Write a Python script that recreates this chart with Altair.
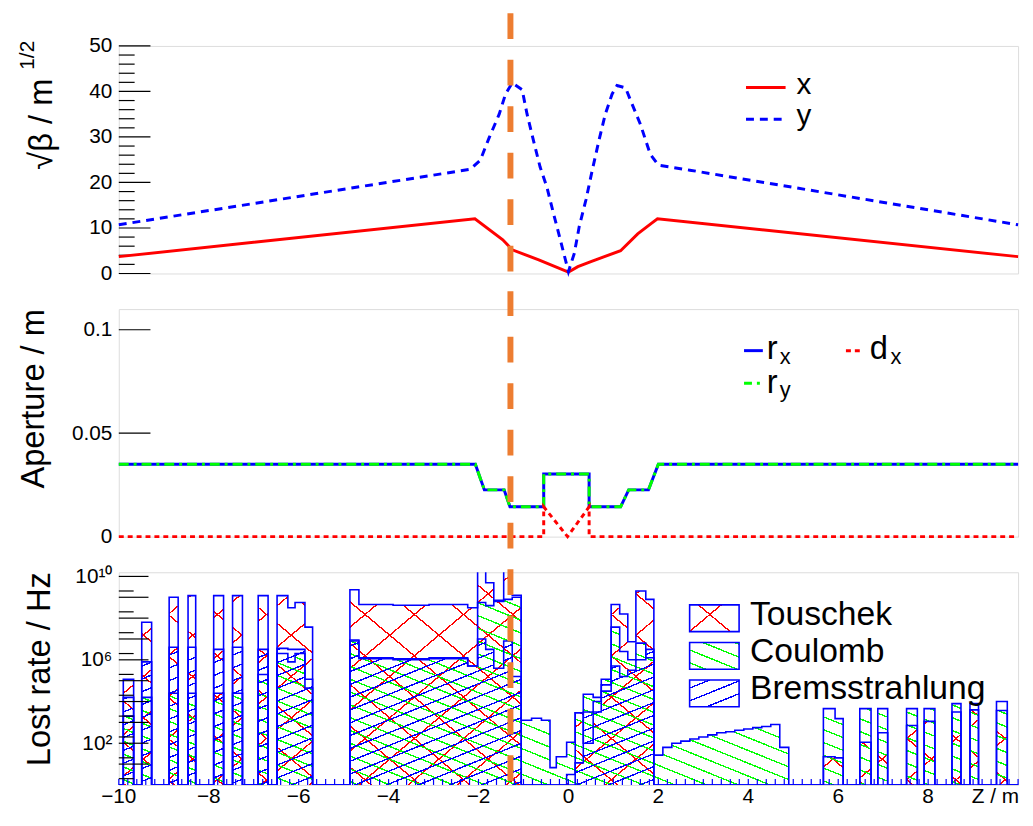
import math
import altair as alt
import pandas as pd

FONT = "Liberation Sans"
W = 909
H1, H2, H3 = 230, 230, 215
LOG_MAX = 10.2
ORANGE = "#ED7D31"
Z_MARK = -1.29

# ---------------- top panel: sqrt(beta) ----------------
bx_z = [-10, -2.08, -1.46, -1.25, -0.66, 0.0, 0.21, 0.5, 0.8, 1.16, 1.54, 1.83, 1.98, 10]
bx_v = [3.7, 12.0, 7.4, 5.2, 3.0, 0.3, 1.5, 2.6, 3.7, 5.0, 8.7, 10.9, 12.0, 3.7]
by_z = [-10, -2.18, -1.96, -1.76, -1.54, -1.4, -1.25, -1.03, -0.92, -0.78, -0.63, -0.48,
        -0.33, -0.18, 0.0, 0.13, 0.24, 0.39, 0.53, 0.68, 0.82, 0.97, 1.08, 1.27, 1.42,
        1.6, 1.82, 2.0, 2.7, 10]
by_v = [10.7, 22.9, 24.9, 29.9, 35.0, 39.4, 41.9, 40.4, 35.0, 29.3, 23.4, 19.0, 13.1,
        7.4, 0.4, 4.4, 10.3, 16.2, 22.7, 29.3, 35.0, 39.4, 41.3, 40.8, 37.1, 32.8, 26.2,
        23.8, 22.7, 10.7]

# ---------------- middle panel: aperture ----------------
r_z = [-10, -2.07, -1.87, -1.43, -1.3, -0.55, -0.55, 0.46, 0.46, 1.16, 1.34, 1.78, 2.0, 10]
r_v = [0.035, 0.035, 0.0226, 0.0226, 0.0144, 0.0144, 0.0303, 0.0303, 0.0144, 0.0144,
       0.0226, 0.0226, 0.035, 0.035]
d_z = [-10, -0.55, -0.55, -0.02, 0.46, 0.46, 10]
d_v = [0.0, 0.0, 0.0144, 0.0, 0.0144, 0.0, 0.0]

# ---------------- bottom panel: lost rates (log10 Hz, 0 = none) ----------------
bin_lo = [-9.90, -9.49, -8.88, -8.46, -7.89, -7.47, -6.90, -6.48, -6.24, -6.08, -5.86,
          -4.86, -4.66, -3.9, -3.1, -2.24, -2.02, -1.84, -1.66, -1.44, -1.25,
          -1.05, -0.82, -0.60, -0.41, -0.27, -0.04, 0.15, 0.33, 0.55, 0.73, 0.95, 1.14,
          1.32, 1.50, 1.72, 1.90, 2.1, 2.3, 2.5, 2.7, 2.9, 3.1, 3.3, 3.5, 3.7, 3.9, 4.1,
          4.3, 4.5, 4.7, 5.67, 5.93, 6.48, 6.88, 7.52, 7.91, 8.53, 8.93, 9.52]
bin_hi = [-9.67, -9.27, -8.68, -8.29, -7.67, -7.25, -6.68, -6.24, -6.08, -5.86, -5.69,
          -4.66, -3.9, -3.1, -2.24, -2.02, -1.84, -1.66, -1.44, -1.25, -1.05,
          -0.82, -0.60, -0.41, -0.27, -0.04, 0.15, 0.33, 0.55, 0.73, 0.95, 1.14, 1.32,
          1.50, 1.72, 1.90, 2.1, 2.3, 2.5, 2.7, 2.9, 3.1, 3.3, 3.5, 3.7, 3.9, 4.1, 4.3,
          4.5, 4.7, 4.9, 5.93, 6.11, 6.73, 7.10, 7.76, 8.15, 8.73, 9.12, 9.76]
touschek = [5.07, 7.8, 9.0, 9.08, 9.08, 9.08, 9.08, 9.08, 8.5, 8.75, 7.57,
            9.36, 8.65, 8.62, 8.65, 8.5, 10.3, 9.7, 8.85, 10.3, 9.1,
            0, 0, 0, 0, 0, 0.5, 3.46, 2.0, 3.5, 4.5, 8.65, 8.2,
            6.87, 9.3, 8.9, 0, 0, 0, 0, 0, 0, 0, 0, 0, 0, 0, 0,
            0, 0, 0, 1.35, 1.3, 2.05, 2.5, 2.85, 3.05, 3.5, 3.6, 3.57]
coulomb = [3.3, 4.2, 4.4, 4.4, 4.4, 4.4, 5.3, 6.3, 5.9, 6.3, 4.65,
           6.9, 6.05, 6.0, 6.05, 5.7, 8.75, 8.6, 8.8, 8.9, 9.0,
           3.1, 3.2, 3.1, 0.83, 1.35, 2.05, 3.46, 4.35, 4.2, 5.07, 7.57, 6.4,
           6.0, 6.8, 6.1, 1.43, 1.8, 2.0, 2.1, 2.2, 2.3, 2.4, 2.5, 2.55, 2.62, 2.68, 2.75,
           2.8, 2.9, 1.8, 3.66, 3.18, 3.66, 3.66, 3.66, 3.66, 3.9, 3.9, 4.0]
brems = [4.2, 5.9, 6.6, 6.6, 6.5, 6.6, 6.5, 6.55, 6.5, 6.5, 5.07,
         6.95, 6.1, 6.05, 6.1, 5.7, 7.0, 6.5, 5.6, 6.9, 5.2,
         0, 0, 0, 0, 0, 0, 1.06, 3.5, 4.0, 4.8, 5.7, 5.2,
         5.5, 6.0, 6.5, 0, 0, 0, 0, 0, 0, 0, 0, 0, 0, 0, 0,
         0, 0, 0, 0, 0, 0, 0, 0, 0, 0, 0, 0]

top_ticks_major = [0, 10, 20, 30, 40, 50]
top_ticks_minor = [2, 4, 6, 8, 12, 14, 16, 18, 22, 24, 26, 28, 32, 34, 36, 38, 42, 44, 46, 48]
mid_ticks = [0.05, 0.1]
log_ticks_major = [1e1, 1e2, 1e3, 1e4, 1e5, 1e6, 1e7, 1e8, 1e9, 1e10]
log_ticks_minor = [2e0, 2e1, 2e2, 2e3, 2e4, 2e5, 2e6, 2e7, 2e8, 2e9]
x_label_values = [-10, -8, -6, -4, -2, 0, 2, 4, 6, 8]
x_ticks_minor = [round(-10 + 0.2 * i, 2) for i in range(101)]

RED, GREEN, BLUE = "#FF0000", "#00FF00", "#0000FF"
CLEAR = "rgba(255,255,255,0)"


def hatch_dict(color, angle, period, X0, Y0, bw, bh, lw=1.4):
    """Stripe gradient (Vega gradient object) laid out in pixel space."""
    th = math.radians(angle)
    nx, ny = -math.sin(th), math.cos(th)
    proj = [X0 * nx + Y0 * ny, (X0 + bw) * nx + Y0 * ny,
            X0 * nx + (Y0 + bh) * ny, (X0 + bw) * nx + (Y0 + bh) * ny]
    pmin, pmax = min(proj), max(proj)
    L = pmax - pmin
    u0 = 0.0 if nx >= 0 else 1.0
    v0 = 0.0 if ny >= 0 else 1.0
    qx, qy = bw * nx / L, bh * ny / L
    q2 = qx * qx + qy * qy
    dx, dy = qx / q2, qy / q2
    stops = [{"offset": 0.0, "color": CLEAR}]
    k0 = math.floor(pmin / period) - 1
    k1 = math.ceil(pmax / period) + 1
    for k in range(k0, k1 + 1):
        s = (k * period - pmin) / L
        e = s + lw / L
        if e <= 0 or s >= 1:
            continue
        s = max(0.0, s)
        e = min(1.0, e)
        stops += [{"offset": s, "color": CLEAR}, {"offset": s, "color": color},
                  {"offset": e, "color": color}, {"offset": e, "color": CLEAR}]
    stops.append({"offset": 1.0, "color": CLEAR})
    return {"gradient": "linear", "stops": stops,
            "x1": u0, "y1": v0, "x2": u0 + dx, "y2": v0 + dy}


def one():
    return pd.DataFrame({"a": [0]})


def text(t, x, y, size, align="left", angle=0, color="black"):
    return alt.Chart(one()).mark_text(
        text=t, font=FONT, fontSize=size, align=align, baseline="alphabetic",
        angle=angle, color=color).encode(x=alt.value(x), y=alt.value(y))


def hline(x1, x2, y, color, dash=None, width=3, opacity=1):
    kw = dict(color=color, strokeWidth=width, opacity=opacity)
    if dash:
        kw["strokeDash"] = dash
    return alt.Chart(one()).mark_rule(**kw).encode(
        x=alt.value(x1), x2=alt.value(x2), y=alt.value(y))


xscale = alt.Scale(domain=[-10, 10], nice=False, zero=False)


def orange(h, top_ext, bot_ext, offset):
    return alt.Chart(pd.DataFrame({"z": [Z_MARK]})).mark_rule(
        color=ORANGE, strokeWidth=6, strokeDash=[26, 21], strokeDashOffset=offset,
        strokeCap="butt", clip=False).encode(
        x=alt.X("z:Q", scale=xscale, axis=None),
        y=alt.value(-top_ext), y2=alt.value(h + bot_ext))


# ======== top panel ========
s1 = alt.Scale(domain=[0, 50], nice=False, zero=False)
ax1 = alt.Axis(values=top_ticks_major, ticks=False, domain=False, grid=False, title=None,
               labelFont=FONT, labelFontSize=21, labelColor="black", labelPadding=7,
               labelFlush=False, labelOverlap=False)
df_bx = pd.DataFrame({"z": bx_z, "v": bx_v})
df_by = pd.DataFrame({"z": by_z, "v": by_v})
line_x = alt.Chart(df_bx).mark_line(color=RED, strokeWidth=3).encode(
    x=alt.X("z:Q", scale=xscale, axis=None), y=alt.Y("v:Q", scale=s1, axis=ax1))
line_y = alt.Chart(df_by).mark_line(color=BLUE, strokeWidth=3, strokeDash=[8, 6]).encode(
    x=alt.X("z:Q", scale=xscale, axis=None), y=alt.Y("v:Q", scale=s1, axis=ax1))
tk1a = alt.Chart(pd.DataFrame({"v": top_ticks_major})).mark_rule(color="black", strokeWidth=1.2).encode(
    y=alt.Y("v:Q", scale=s1, axis=ax1), x=alt.value(0), x2=alt.value(32))
tk1b = alt.Chart(pd.DataFrame({"v": top_ticks_minor})).mark_rule(color="black", strokeWidth=1.2).encode(
    y=alt.Y("v:Q", scale=s1, axis=ax1), x=alt.value(0), x2=alt.value(16))
top = alt.layer(
    hline(-112, -100, -39, "white", width=1, opacity=0),   # layout anchor (invisible)
    tk1a, tk1b, line_x, line_y,
    hline(634, 674, 42, RED), text("x", 685, 49, 30),
    hline(634, 674, 74, BLUE, dash=[8, 6]), text("y", 685, 80, 30),
    text("√β / m", -68, 33, 33, align="right", angle=270),
    text("1/2", -86, 24, 21, align="left", angle=270),
    orange(H1, 33, 18, 0),
).properties(width=W, height=H1)

# ======== middle panel ========
s2 = alt.Scale(domain=[0, 0.11], nice=False, zero=False)
ax2 = alt.Axis(values=[0, 0.05, 0.1], format="~g", ticks=False, domain=False, grid=False,
               title=None, labelFont=FONT, labelFontSize=21, labelColor="black",
               labelPadding=7, labelFlush=False, labelOverlap=False)
df_r = pd.DataFrame({"z": r_z, "v": r_v, "o": list(range(len(r_z)))})
df_d = pd.DataFrame({"z": d_z, "v": d_v, "o": list(range(len(d_z)))})


def pline(df, **kw):
    return alt.Chart(df).mark_line(**kw).encode(
        x=alt.X("z:Q", scale=xscale, axis=None), y=alt.Y("v:Q", scale=s2, axis=ax2),
        order="o:Q")


tk2 = alt.Chart(pd.DataFrame({"v": mid_ticks})).mark_rule(color="black", strokeWidth=1.2).encode(
    y=alt.Y("v:Q", scale=s2, axis=ax2), x=alt.value(0), x2=alt.value(32))
mid = alt.layer(
    tk2,
    pline(df_r, color=BLUE, strokeWidth=3),
    pline(df_r, color=GREEN, strokeWidth=3, strokeDash=[10, 5, 3, 5]),
    pline(df_d, color=RED, strokeWidth=3, strokeDash=[5, 4]),
    hline(632, 651, 42, BLUE), text("r", 655, 50, 33), text("x", 668, 56, 22),
    hline(632, 651, 75, GREEN, dash=[8, 5, 3, 5]), text("r", 655, 85, 33), text("y", 668, 89, 22),
    hline(735, 750, 42, RED, dash=[5, 4]), text("d", 759, 50, 33), text("x", 780, 56, 22),
    text("Aperture / m", -76, 0, 33, align="right", angle=270),
    orange(H2, 18, 18, 1),
).properties(width=W, height=H2)

# ======== bottom panel ========
s3 = alt.Scale(type="log", domain=[1, 10 ** LOG_MAX], nice=False)
ax3 = alt.Axis(values=[1e2, 1e6, 1e10], ticks=False, domain=False, grid=False, title=None,
               labelExpr="datum.value < 1000 ? '10²' : (datum.value < 1e8 ? '10⁶' : '10¹⁰')",
               labelFont=FONT, labelFontSize=21, labelColor="black", labelPadding=7,
               labelFlush=False, labelOverlap=False)

X3 = lambda f: alt.X(f, type="quantitative", scale=xscale, axis=None)
Y3 = lambda f: alt.Y(f, type="quantitative", scale=s3, axis=ax3)


def px(z):
    return (z + 10.0) / 20.0 * W


def py(e):
    return H3 * (1.0 - e / LOG_MAX)


def steps(vals):
    pts = []
    cur = -10.0
    for a, b, v in zip(bin_lo, bin_hi, vals):
        if a > cur + 1e-9:
            pts.append((cur, 0.0))
        pts.append((a, v))
        cur = b
    pts.append((cur, 0.0))
    if cur < 10:
        pts.append((10.0, 0.0))
    return pd.DataFrame({"z": [p[0] for p in pts],
                         "rate": [10 ** p[1] for p in pts],
                         "o": list(range(len(pts)))})


def hatch_rects(vals, patterns):
    rows = []
    for lo, hi, e in zip(bin_lo, bin_hi, vals):
        if e <= 0:
            continue
        X0 = px(lo)
        bw = px(hi) - X0
        Y0 = py(e)
        bh = H3 - Y0
        row = {"lo": lo, "hi": hi, "rate": 10 ** e}
        for j, (c, a, p) in enumerate(patterns):
            row["g%d" % j] = hatch_dict(c, a, p, X0, Y0, bw, bh)
        rows.append(row)
    out = []
    for j in range(len(patterns)):
        out.append(alt.Chart(alt.Data(values=rows)).mark_rect(clip=True).encode(
            x=X3("lo"), x2=alt.X2("hi"), y=Y3("rate"), y2=alt.value(H3),
            fill=alt.Fill("g%d:N" % j, scale=None, legend=None)))
    return out


def hist_line(vals):
    return alt.Chart(steps(vals)).mark_line(
        interpolate="step-after", color=BLUE, strokeWidth=1.6, clip=True).encode(
        x=X3("z"), y=Y3("rate"), order="o:Q")


PAT_T = [(RED, 40, 32), (RED, -40, 32)]
PAT_C = [(GREEN, 22, 12)]
PAT_B = [(BLUE, -22, 12)]

tk3a = alt.Chart(pd.DataFrame({"v": log_ticks_major})).mark_rule(color="black", strokeWidth=1.2).encode(
    y=Y3("v"), x=alt.value(0), x2=alt.value(30))
tk3b = alt.Chart(pd.DataFrame({"v": log_ticks_minor})).mark_rule(color="black", strokeWidth=1.2).encode(
    y=Y3("v"), x=alt.value(0), x2=alt.value(15))
tkxa = alt.Chart(pd.DataFrame({"t": x_ticks_minor})).mark_rule(color=BLUE, strokeWidth=1.2).encode(
    x=X3("t"), y=alt.value(H3), y2=alt.value(H3 - 6))
xlab = alt.Chart(pd.DataFrame({
    "t": x_label_values,
    "s": [str(v).replace("-", "\u2212") for v in x_label_values]})).mark_text(
    font=FONT, fontSize=21, baseline="alphabetic", align="center", color="black").encode(
    x=X3("t"), y=alt.value(H3 + 18), text="s:N")


def legend_box(y0, patterns):
    out = []
    for color, angle, period in patterns:
        g = hatch_dict(color, angle, period, 577, y0, 50, 27)
        out.append(alt.Chart(one()).mark_rect(fill=alt.LinearGradient(**g)).encode(
            x=alt.value(577), x2=alt.value(627), y=alt.value(y0), y2=alt.value(y0 + 27)))
    out.append(alt.Chart(one()).mark_rect(fill=None, stroke=BLUE, strokeWidth=1.6).encode(
        x=alt.value(577), x2=alt.value(627), y=alt.value(y0), y2=alt.value(y0 + 27)))
    return out


bot_layers = hatch_rects(touschek, PAT_T) + hatch_rects(coulomb, PAT_C) + hatch_rects(brems, PAT_B)
bot_layers += [hist_line(touschek), hist_line(coulomb), hist_line(brems), tk3a, tk3b, tkxa, xlab]
bot_layers += legend_box(33, PAT_T) + legend_box(71, PAT_C) + legend_box(109, PAT_B)
bot_layers += [
    text("Touschek", 638, 53, 34), text("Coulomb", 638, 91, 34),
    text("Bremsstrahlung", 638, 128, 34),
    text("Lost rate / Hz", -70, 0, 33, align="right", angle=270),
    text("Z / m", W + 1, H3 + 18, 21, align="right"),
    orange(H3, 18, 16, 32),
]
bot = alt.layer(*bot_layers).properties(width=W, height=H3)

chart = alt.vconcat(top, mid, bot, spacing=36, bounds="flush").properties(
    padding={"left": -1, "top": -6, "right": 0, "bottom": 0}
).configure_view(stroke="#222222", strokeWidth=1.5).configure(background="white")

chart.save("out.html", embed_options={"renderer": "svg", "actions": False})
